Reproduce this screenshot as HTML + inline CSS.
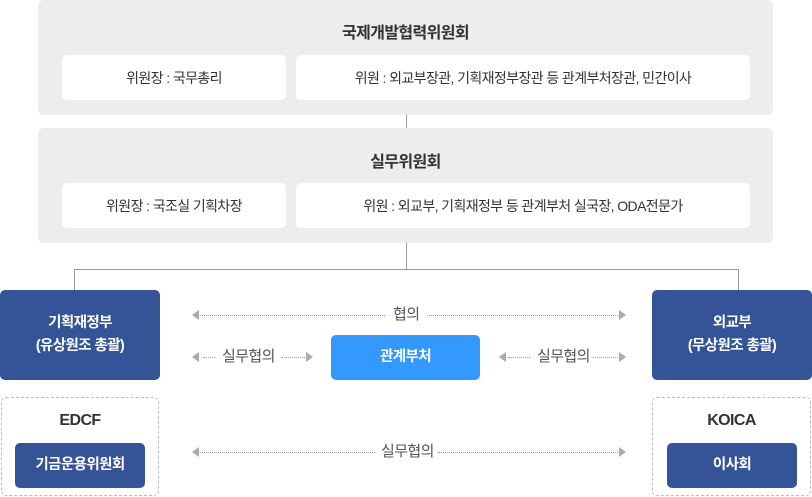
<!DOCTYPE html>
<html><head><meta charset="utf-8"><style>
*{margin:0;padding:0;box-sizing:border-box}
body{width:812px;height:497px;background:#fff;position:relative;overflow:hidden;font-family:"Liberation Sans","Noto Sans CJK KR",sans-serif}
.a{position:absolute}
.g{background:#ededed;border-radius:6px}
.w{background:#fff;border-radius:5px;display:flex;align-items:center;justify-content:center;font-size:14px;color:#333;letter-spacing:-0.6px}
.t{font-size:16px;font-weight:bold;color:#333;text-align:center;letter-spacing:-0.6px}
.b{background:#355397;border-radius:5px;color:#fff;font-weight:bold;font-size:14.5px;display:flex;align-items:center;justify-content:center;text-align:center;line-height:23px;letter-spacing:-0.6px}
.d{border:1px dashed #bbb;border-radius:5px}
.ln{border-top:1px dotted #999;height:0}
.lbl{font-size:15px;color:#555;letter-spacing:-0.6px;line-height:16px}
.tr{width:0;height:0;border-top:5px solid transparent;border-bottom:5px solid transparent}
.r{border-left:7px solid #aaa}
.l{border-right:7px solid #aaa}
</style></head><body>
<div class="a g" style="left:38px;top:0;width:735px;height:115px"></div>
<div class="a t" style="left:38px;top:19px;width:735px">국제개발협력위원회</div>
<div class="a w" style="left:62px;top:55px;width:224px;height:45px">위원장 : 국무총리</div>
<div class="a w" style="left:296px;top:55px;width:454px;height:45px">위원 : 외교부장관, 기획재정부장관 등 관계부처장관, 민간이사</div>
<div class="a" style="left:406px;top:115px;width:1px;height:13px;background:#999"></div>
<div class="a g" style="left:38px;top:128px;width:735px;height:115px"></div>
<div class="a t" style="left:38px;top:148px;width:735px">실무위원회</div>
<div class="a w" style="left:62px;top:183px;width:224px;height:45px">위원장 : 국조실 기획차장</div>
<div class="a w" style="left:296px;top:183px;width:454px;height:45px">위원 : 외교부, 기획재정부 등 관계부처 실국장, ODA전문가</div>
<div class="a" style="left:406px;top:243px;width:1px;height:26px;background:#999"></div>
<div class="a" style="left:74px;top:269px;width:665px;height:1px;background:#999"></div>
<div class="a" style="left:74px;top:269px;width:1px;height:21px;background:#999"></div>
<div class="a" style="left:738px;top:269px;width:1px;height:21px;background:#999"></div>

<div class="a b" style="left:0;top:290px;width:160px;height:90px">기획재정부<br>(유상원조 총괄)</div>
<div class="a b" style="left:652px;top:290px;width:160px;height:90px">외교부<br>(무상원조 총괄)</div>
<div class="a b" style="left:331px;top:335px;width:149px;height:45px;background:#3399ff">관계부처</div>

<div class="a d" style="left:1px;top:397px;width:158px;height:99px"></div>
<div class="a t" style="left:1px;top:412px;width:158px;font-size:16px">EDCF</div>
<div class="a b" style="left:15px;top:443px;width:130px;height:45px">기금운용위원회</div>
<div class="a d" style="left:652px;top:397px;width:159px;height:99px"></div>
<div class="a t" style="left:652px;top:412px;width:159px;font-size:16px">KOICA</div>
<div class="a b" style="left:667px;top:443px;width:130px;height:45px">이사회</div>

<div class="a tr l" style="left:192px;top:310px"></div>
<div class="a ln" style="left:200px;top:315px;width:185px"></div>
<div class="a lbl" style="left:393px;top:307px">협의</div>
<div class="a ln" style="left:427px;top:315px;width:191px"></div>
<div class="a tr r" style="left:619px;top:310px"></div>

<div class="a tr l" style="left:192px;top:352px"></div>
<div class="a ln" style="left:203px;top:357px;width:12px"></div>
<div class="a lbl" style="left:222px;top:349px">실무협의</div>
<div class="a ln" style="left:281px;top:357px;width:24px"></div>
<div class="a tr r" style="left:306px;top:352px"></div>
<div class="a tr l" style="left:499px;top:352px"></div>
<div class="a ln" style="left:508px;top:357px;width:22px"></div>
<div class="a lbl" style="left:537px;top:349px">실무협의</div>
<div class="a ln" style="left:593px;top:357px;width:25px"></div>
<div class="a tr r" style="left:619px;top:352px"></div>

<div class="a tr l" style="left:192px;top:447px"></div>
<div class="a ln" style="left:200px;top:452px;width:175px"></div>
<div class="a lbl" style="left:381px;top:444px">실무협의</div>
<div class="a ln" style="left:438px;top:452px;width:180px"></div>
<div class="a tr r" style="left:619px;top:447px"></div>
</body></html>
